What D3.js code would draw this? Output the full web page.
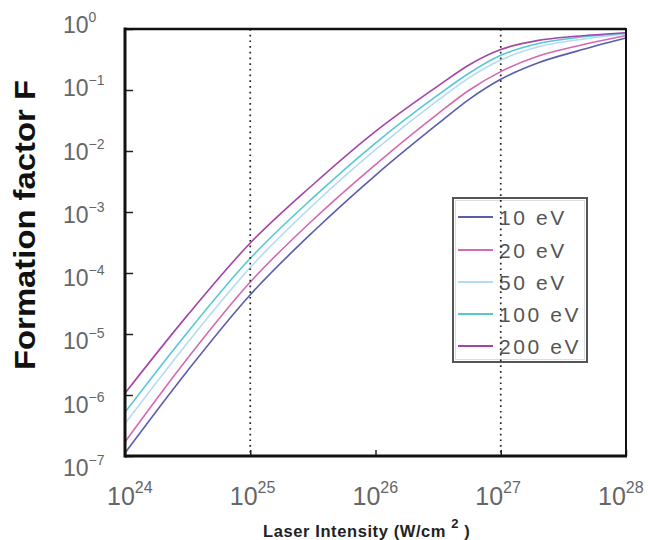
<!DOCTYPE html>
<html>
<head>
<meta charset="utf-8">
<script src="https://cdn.jsdelivr.net/npm/d3@7"></script>
<style>
  html, body { margin: 0; padding: 0; background: #fff; }
  svg { display: block; }
</style>
</head>
<body>
<svg id="chart" width="648" height="540"></svg>
<script>
// ---- data ----
const intensity = [1e24, 3.16e24, 1e25, 3.16e25, 1e26, 3.16e26, 5.62e26, 1e27, 2e27, 4e27, 1e28];
const seriesNames = ["10 eV", "20 eV", "50 eV", "100 eV", "200 eV"];
const f10eV  = [1.12e-7, 2.5e-6, 4.4e-5, 4.7e-4, 4.0e-3, 0.028, 0.071, 0.15, 0.28, 0.43, 0.71];
const f20eV  = [1.7e-7, 4.0e-6, 7.1e-5, 7.4e-4, 6.0e-3, 0.041, 0.10, 0.20, 0.36, 0.52, 0.78];
const f50eV  = [3.4e-7, 7.2e-6, 1.23e-4, 1.29e-3, 0.0105, 0.068, 0.16, 0.31, 0.51, 0.66, 0.83];
const f100eV = [5.2e-7, 1.07e-5, 1.74e-4, 1.7e-3, 0.0135, 0.083, 0.19, 0.37, 0.58, 0.72, 0.85];
const f200eV = [1.07e-6, 2.04e-5, 3.1e-4, 2.8e-3, 0.021, 0.117, 0.26, 0.46, 0.65, 0.76, 0.87];
const seriesValues = [f10eV, f20eV, f50eV, f100eV, f200eV];
const seriesColors = ["#5a5cae", "#d668b0", "#b4dcf0", "#55c8d8", "#a444a8"];
const xTickExps = [24, 25, 26, 27, 28];
const yTickExps = [0, -1, -2, -3, -4, -5, -6, -7];
const dottedAt = [1e25, 1e27];

// ---- layout ----
const svg = d3.select("#chart");
const x = d3.scaleLog().domain([1e24, 1e28]).range([125, 626]);
const y = d3.scaleLog().domain([1e-7, 1]).range([456, 29]);
// label placement scales (labels in the original are slightly offset from ticks)
const xLab = d3.scaleLog().domain([1e24, 1e28]).range([107, 598]);
const yLab = d3.scaleLog().domain([1e-7, 1]).range([476, 33]);

// legend (drawn before dotted lines, the dotted lines pass over it)
const lg = svg.append("g");
lg.append("rect").attr("x", 453).attr("y", 198).attr("width", 134).attr("height", 164)
  .attr("fill", "#fff").attr("stroke", "#555").attr("stroke-width", 2);
lg.append("rect").attr("x", 455.5).attr("y", 200.5).attr("width", 129).attr("height", 159)
  .attr("fill", "none").attr("stroke", "#ddd").attr("stroke-width", 1);
const legY = [217, 250, 282, 314, 346];
seriesNames.forEach((n, i) => {
  lg.append("line").attr("x1", 458).attr("x2", 493).attr("y1", legY[i]).attr("y2", legY[i])
    .attr("stroke", seriesColors[i]).attr("stroke-width", 2);
  lg.append("text").attr("x", 499).attr("y", legY[i] + 8).text(n)
    .attr("font-family", "Liberation Sans, Arial, sans-serif").attr("font-size", 21)
    .attr("letter-spacing", 2.6).attr("fill", "#555");
});

// curves
const line = d3.line().x(d => x(d[0])).y(d => y(d[1])).curve(d3.curveMonotoneX);
seriesValues.forEach((vals, i) => {
  svg.append("path").datum(intensity.map((v, j) => [v, vals[j]]))
    .attr("d", line).attr("fill", "none").attr("stroke", seriesColors[i]).attr("stroke-width", 1.6);
});

// dotted verticals
dottedAt.forEach(v => {
  svg.append("line").attr("x1", x(v)).attr("x2", x(v)).attr("y1", y(1)).attr("y2", y(1e-7))
    .attr("stroke", "#222").attr("stroke-width", 1.7).attr("stroke-dasharray", "1.7,4");
});

// axes ticks
const yAxis = d3.axisLeft(y).tickValues(yTickExps.map(e => Math.pow(10, e))).tickSize(-8).tickFormat("");
const gy = svg.append("g").attr("transform", "translate(125,0)").call(yAxis);
gy.select(".domain").remove();
gy.selectAll(".tick line").attr("stroke", "#222").attr("stroke-width", 1.5);
const xAxis = d3.axisBottom(x).tickValues(xTickExps.map(e => Math.pow(10, e))).tickSize(-6).tickFormat("");
const gx = svg.append("g").attr("transform", "translate(0,456)").call(xAxis);
gx.select(".domain").remove();
gx.selectAll(".tick line").attr("stroke", "#222").attr("stroke-width", 1.5);

// frame
svg.append("line").attr("x1", 125).attr("x2", 626).attr("y1", 29).attr("y2", 29).attr("stroke", "#111").attr("stroke-width", 2.5);
svg.append("line").attr("x1", 626).attr("x2", 626).attr("y1", 28).attr("y2", 457).attr("stroke", "#111").attr("stroke-width", 2);
svg.append("line").attr("x1", 125).attr("x2", 627).attr("y1", 456).attr("y2", 456).attr("stroke", "#111").attr("stroke-width", 3);
svg.append("line").attr("x1", 125).attr("x2", 125).attr("y1", 27.5).attr("y2", 457.5).attr("stroke", "#111").attr("stroke-width", 3);

// tick labels
const labFont = "Liberation Sans, Arial, sans-serif";
yTickExps.forEach(e => {
  const t = svg.append("text").attr("x", 63).attr("y", yLab(Math.pow(10, e)))
    .attr("font-family", labFont).attr("fill", "#666").attr("font-size", 23);
  t.append("tspan").text("10");
  t.append("tspan").attr("dy", -11).attr("font-size", 14).text(e === 0 ? "0" : "\u2212" + (-e));
});
xTickExps.forEach(e => {
  const t = svg.append("text").attr("x", xLab(Math.pow(10, e))).attr("y", 505)
    .attr("font-family", labFont).attr("fill", "#666").attr("font-size", 25);
  t.append("tspan").text("10");
  t.append("tspan").attr("dy", -12).attr("font-size", 16).text(String(e));
});

// axis titles
svg.append("text").attr("transform", "translate(35,225) rotate(-90)")
  .attr("text-anchor", "middle").attr("font-family", "Liberation Sans, Arial, sans-serif")
  .attr("font-weight", "bold").attr("font-size", 29).attr("fill", "#111")
  .attr("textLength", 290).attr("lengthAdjust", "spacingAndGlyphs")
  .text("Formation factor F");

const xt = svg.append("text").attr("x", 263).attr("y", 537)
  .attr("font-family", "Liberation Sans, Arial, sans-serif").attr("font-weight", "bold")
  .attr("font-size", 16.5).attr("letter-spacing", 0.6).attr("fill", "#222");
xt.append("tspan").text("Laser Intensity (W/cm ");
xt.append("tspan").attr("dy", -9).attr("font-size", 13).text("2");
xt.append("tspan").attr("dy", 9).text(" )");
</script>
</body>
</html>
